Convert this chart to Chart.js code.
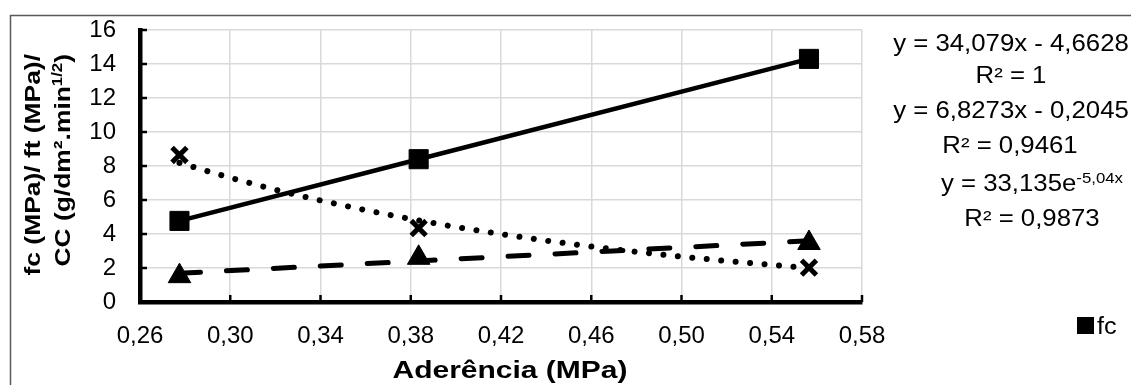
<!DOCTYPE html>
<html>
<head>
<meta charset="utf-8">
<script src="https://cdn.jsdelivr.net/npm/chart.js@4/dist/chart.umd.min.js"></script>
<style>
html,body{margin:0;padding:0;background:#fff;}
#wrap{width:1131px;height:385px;position:relative;}
</style>
</head>
<body>
<div id="wrap"><canvas id="c" width="1131" height="385"></canvas></div>
<script>
// ---- data ----
const aderencia = [0.2775, 0.3835, 0.5565];
const fcValues = [4.77, 8.40, 14.30];
const ftValues = [1.52, 2.60, 3.47];
const ccValues = [8.65, 4.35, 2.02];
// trend lines as seen in the picture
const ftTrendX = [0.2775, 0.5565];
const ftTrendY = [1.69, 3.60];
const ccTrendX = [0.2775, 0.30, 0.32, 0.34, 0.36, 0.38, 0.40, 0.42, 0.44, 0.46, 0.48, 0.50, 0.52, 0.54, 0.5565];
const ccTrendY = [8.18, 7.31, 6.60, 5.97, 5.40, 4.88, 4.41, 3.99, 3.61, 3.26, 2.95, 2.67, 2.41, 2.18, 2.00];
const xTicks = [0.26, 0.30, 0.34, 0.38, 0.42, 0.46, 0.50, 0.54, 0.58];
const yTicks = [0, 2, 4, 6, 8, 10, 12, 14, 16];
const xTitle = 'Aderência (MPa)';
const yTitle1 = 'fc (MPa)/ ft (MPa)/';
const yTitle2a = 'CC (g/dm².min';
const yTitle2sup = '1/2';
const yTitle2b = ')';
const eqFc = ['y = 34,079x - 4,6628', 'R² = 1'];
const eqFt = ['y = 6,8273x - 0,2045', 'R² = 0,9461'];
const eqCc = ['y = 33,135e', '-5,04x', 'R² = 0,9873'];
const legendLabel = 'fc';

const FONT = "'Liberation Sans', Arial, sans-serif";
const TICK = 24;

function pts(xs, ys){ return xs.map((x,i)=>({x:x, y:ys[i]})); }

// draws a run of [text, fontSize, dy] pieces, horizontally scaled by sx, aligned around x
function drawRun(ctx, pieces, x, y, align, sx, weight){
  let widths = pieces.map(p=>{ ctx.font = (weight||'') + ' ' + p[1] + 'px ' + FONT; return ctx.measureText(p[0]).width; });
  const total = widths.reduce((a,b)=>a+b,0);
  ctx.save();
  ctx.translate(x, y);
  ctx.scale(sx, 1);
  let start = align==='center' ? -total/2 : (align==='right' ? -total : 0);
  ctx.textAlign = 'left';
  ctx.textBaseline = 'alphabetic';
  pieces.forEach((p,i)=>{
    ctx.font = (weight||'') + ' ' + p[1] + 'px ' + FONT;
    ctx.fillText(p[0], start, p[2]);
    start += widths[i];
  });
  ctx.restore();
}

const decor = {
  id:'decor',
  beforeDraw(chart){
    const ctx = chart.ctx;
    ctx.save();
    ctx.strokeStyle = '#595959';
    ctx.lineWidth = 1.5;
    ctx.beginPath();
    ctx.moveTo(10.5, 385); ctx.lineTo(10.5, 15.5); ctx.lineTo(1131, 15.5);
    ctx.stroke();
    ctx.restore();
  },
  afterDraw(chart){
    const ctx = chart.ctx;
    const xs = chart.scales.x, ys = chart.scales.y;
    const a = chart.chartArea;
    ctx.save();
    // inside tick marks
    ctx.strokeStyle = '#000';
    ctx.lineWidth = 2.5;
    ctx.beginPath();
    yTicks.forEach(v=>{ const p = ys.getPixelForValue(v); ctx.moveTo(a.left, p); ctx.lineTo(a.left+7, p); });
    xTicks.forEach(v=>{ const p = xs.getPixelForValue(v); ctx.moveTo(p, a.bottom); ctx.lineTo(p, a.bottom-7); });
    ctx.stroke();

    ctx.fillStyle = '#000';
    // x title
    drawRun(ctx, [[xTitle, 24, 0]], 510, 378, 'center', 1.25, 'bold');
    // y title (rotated)
    ctx.save();
    ctx.rotate(-Math.PI/2);
    drawRun(ctx, [[yTitle1, 22, 0]], -54, 40, 'right', 1.2, 'bold');
    drawRun(ctx, [[yTitle2a, 22, 0], [yTitle2sup, 14, -8], [yTitle2b, 22, 0]], -54, 70, 'right', 1.2, 'bold');
    ctx.restore();

    // equations
    const S = 1.12;
    drawRun(ctx, [[eqFc[0], 23, 0]], 1011, 51, 'center', S);
    drawRun(ctx, [[eqFc[1], 23, 0]], 1011, 83, 'center', S);
    drawRun(ctx, [[eqFt[0], 23, 0]], 1011, 118, 'center', S);
    drawRun(ctx, [[eqFt[1], 23, 0]], 1010, 153, 'center', S);
    drawRun(ctx, [[eqCc[0], 23, 0], [eqCc[1], 15, -8]], 1032, 191, 'center', S);
    drawRun(ctx, [[eqCc[2], 23, 0]], 1032, 226, 'center', S);

    // legend
    ctx.fillRect(1077, 317, 17, 17);
    drawRun(ctx, [[legendLabel, 23, 0]], 1097, 334, 'left', 1.1);
    ctx.restore();
  }
};

new Chart(document.getElementById('c'), {
  type: 'scatter',
  data: {
    datasets: [
      { label:'fc', data: pts(aderencia, fcValues), showLine:true, borderColor:'#000', backgroundColor:'#000',
        borderWidth:4.5, pointStyle:'rect', pointRadius:13.5, pointBorderWidth:1, pointBackgroundColor:'#000', pointBorderColor:'#000', order:1 },
      { label:'ft', data: pts(aderencia, ftValues), showLine:false, pointStyle:'triangle', pointRadius:13,
        pointBorderWidth:1, pointBackgroundColor:'#000', pointBorderColor:'#000', order:1 },
      { label:'CC', data: pts(aderencia, ccValues), showLine:false, pointStyle:'crossRot', pointRadius:10.5,
        pointBorderWidth:5, pointBackgroundColor:'#000', pointBorderColor:'#000', order:1 },
      { label:'ft trend', data: pts(ftTrendX, ftTrendY), showLine:true, borderColor:'#000', borderWidth:5,
        borderDash:[21,26], borderCapStyle:'round', pointRadius:0, order:2 },
      { label:'CC trend', data: pts(ccTrendX, ccTrendY), showLine:true, borderColor:'#000', borderWidth:6,
        borderDash:[0.01,14.5], borderCapStyle:'round', pointRadius:0, tension:0, order:2 }
    ]
  },
  options: {
    responsive:false,
    animation:false,
    devicePixelRatio:1,
    layout:{ padding:{ left:0, top:30, right:269, bottom:0 } },
    plugins:{ legend:{display:false}, tooltip:{enabled:false} },
    scales:{
      x:{
        type:'linear', min:0.26, max:0.58,
        afterBuildTicks(s){ s.ticks = xTicks.map(v=>({value:v})); },
        afterFit(s){ s.height = 83; s.paddingLeft = 0; s.paddingRight = 0; },
        ticks:{ font:{family:FONT, size:TICK}, color:'#000', padding:20,
          callback:(v)=>Number(v).toFixed(2).replace('.', ','), maxRotation:0, autoSkip:false },
        grid:{ color:'#d9d9d9', lineWidth:1.5, drawTicks:false },
        border:{ color:'#000', width:4.5 }
      },
      y:{
        min:0, max:16,
        afterBuildTicks(s){ s.ticks = yTicks.map(v=>({value:v})); },
        afterFit(s){ s.width = 140; s.paddingTop = 0; s.paddingBottom = 0; },
        ticks:{ font:{family:FONT, size:TICK}, color:'#000', padding:24 },
        grid:{ color:'#d9d9d9', lineWidth:1.5, drawTicks:false },
        border:{ color:'#000', width:4.5 }
      }
    }
  },
  plugins:[decor]
});
</script>
</body>
</html>
